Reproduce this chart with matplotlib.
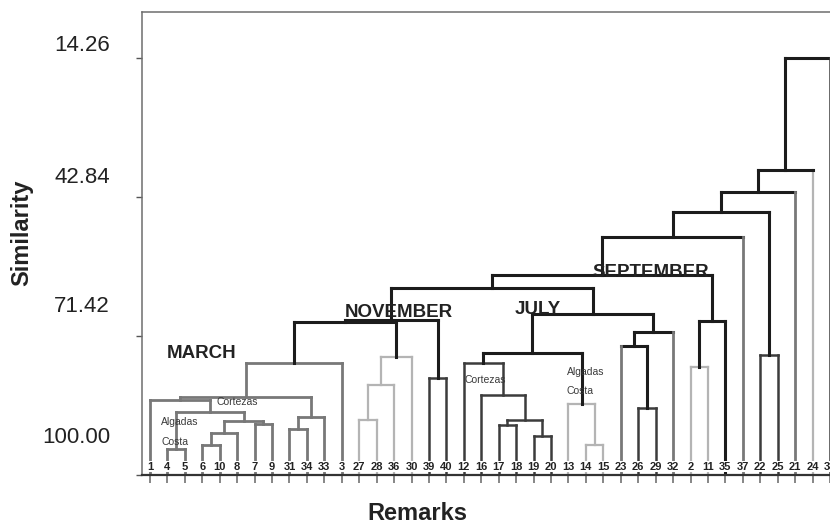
import matplotlib.pyplot as plt
from matplotlib.transforms import ScaledTranslation, blended_transform_factory

# === Data ===
leaf_labels = [1, 4, 5, 6, 10, 8, 7, 9, 31, 34, 33, 3, 27, 28, 36, 30, 39, 40, 12, 16,
               17, 18, 19, 20, 13, 14, 15, 23, 26, 29, 32, 2, 11, 35, 37, 22, 25, 21, 24, 38]
leaf_shades = ["mid"] * 12 + ["light"] * 4 + ["dark"] * 2 + ["dark"] * 6 + ["light"] * 3 + \
              ["mid", "dark", "dark", "mid", "light", "light", "black", "mid", "dark", "dark",
               "mid", "light", "dark"]

# merges, in order: name, left child, right child, similarity, shade
merge_names = ["a", "b", "c", "d", "e", "f", "g", "h", "i", "j", "march",
               "k", "l", "m", "n", "o", "nov",
               "p", "q", "r", "s", "t", "u", "v", "w", "x", "y", "z", "july", "aa",
               "bb", "sept", "cc", "dd", "ee", "ff", "gg", "hh", "root"]
merge_left = [4, 6, "b", 7, "c", "a", 1, 31, "h", "g", "j",
              27, "k", "l", 39, "march", "o",
              17, 19, "p", 16, 12, 14, 13, "t", 26, 23, "y", "w", "nov",
              2, "bb", "aa", "cc", 22, "dd", "ff", "gg", "hh"]
merge_right = [5, 10, 8, 9, "d", "e", "f", 34, 33, "i", 3,
               28, 36, 30, 40, "m", "n",
               18, 20, "q", "r", "s", 15, "u", "v", 29, "x", 32, "z", "july",
               11, 35, "sept", 37, 25, "ee", 21, 24, 38]
merge_sim = [94.65, 93.83, 91.36, 89.51, 88.90, 87.05, 84.58, 90.54, 88.07, 83.96, 76.97,
             88.69, 81.49, 75.74, 80.06, 68.54, 68.13,
             89.72, 91.98, 88.69, 83.55, 76.97, 93.83, 85.40, 74.91, 86.22, 73.48, 70.60,
             66.90, 61.55,
             77.79, 68.34, 58.88, 51.06, 75.33, 45.92, 41.81, 37.29, 14.26]
merge_shade = ["mid"] * 11 + ["light"] * 3 + ["dark", "black", "black"] + \
              ["dark"] * 5 + ["light", "light", "black", "dark", "black", "black", "black", "black"] + \
              ["light", "black", "black", "black", "dark", "black", "black", "black", "black"]

y_ticks = [14.26, 42.84, 71.42, 100.00]
y_label_shift_px = [15, 22, 32, 40]   # labels sit above their ticks in the original

month_names = ["MARCH", "NOVEMBER", "JULY", "SEPTEMBER"]
month_x = [2.97, 14.26, 22.25, 28.75]
month_y = [75.1, 66.6, 66.0, 58.4]

note_texts = ["Cortezas", "Algadas", "Costa", "Cortezas", "Algadas", "Costa"]
note_x = [3.8, 0.65, 0.65, 18.05, 23.9, 23.9]
note_y = [85.0, 89.1, 93.2, 80.5, 78.8, 82.7]

# === Style ===
plt.rcParams['font.family'] = ['Liberation Sans', 'DejaVu Sans']
shade_color = {"black": "#1c1c1c", "dark": "#3c3c3c", "mid": "#787878", "light": "#b4b4b4"}
shade_lw = {"black": 2.2, "dark": 1.8, "mid": 2.0, "light": 1.6}

fig = plt.figure(figsize=(8.3, 5.27), dpi=100)
ax = fig.add_axes([142 / 830, 52 / 527, 688 / 830, 463 / 527])

pos = {lab: i for i, lab in enumerate(leaf_labels)}
height = {lab: 100.0 for lab in leaf_labels}
leaf_shade = dict(zip(leaf_labels, leaf_shades))


def seg(x0, y0, x1, y1, shade):
    ax.plot([x0, x1], [y0, y1], color=shade_color[shade], lw=shade_lw[shade],
            solid_capstyle="projecting", zorder=2 if shade != "light" else 1)


for name, left, right, sim, shade in zip(merge_names, merge_left, merge_right, merge_sim, merge_shade):
    xl, xr = pos[left], pos[right]
    seg(xl, sim, xr, sim, shade)
    seg(xl, height[left], xl, sim, leaf_shade[left] if left in leaf_shade else shade)
    seg(xr, height[right], xr, sim, leaf_shade[right] if right in leaf_shade else shade)
    pos[name] = (xl + xr) / 2
    height[name] = sim

ax.set_xlim(-0.456, 38.79)
ax.set_ylim(100, 4.80)

# spines
ax.spines["right"].set_visible(False)
for side in ["left", "top"]:
    ax.spines[side].set_color("#6e6e6e")
    ax.spines[side].set_linewidth(1.1)
ax.spines["bottom"].set_color("#333333")
ax.spines["bottom"].set_linewidth(1.6)

# ticks
ax.set_xticks(range(len(leaf_labels)))
ax.set_xticklabels([])
ax.tick_params(axis="x", direction="out", length=6, width=1.1, color="#666666")
ax.set_yticks(y_ticks)
ax.set_yticklabels([f"{v:.2f}" for v in y_ticks])
ax.tick_params(axis="y", direction="out", length=4, width=1.0, color="#555555",
               pad=19, labelsize=16, labelcolor="#222222")
for lab, dy in zip(ax.get_yticklabels(), y_label_shift_px):
    lab.set_transform(lab.get_transform() + ScaledTranslation(0, dy / 100, fig.dpi_scale_trans))

# leaf labels inside the axes
blend = blended_transform_factory(ax.transData, ax.transAxes)
for i, lab in enumerate(leaf_labels):
    ax.text(i, 0.018, str(lab), transform=blend, ha="center", va="center",
            fontsize=8, fontweight="bold", color="#222222", clip_on=False, zorder=5,
            bbox=dict(facecolor="white", edgecolor="none", pad=0.2))

# group names and notes
for txt, x, y in zip(month_names, month_x, month_y):
    ax.text(x, y, txt, ha="center", va="center", fontsize=13.5, fontweight="bold",
            color="#222222", zorder=6)
for txt, x, y in zip(note_texts, note_x, note_y):
    ax.text(x, y, txt, ha="left", va="center", fontsize=7.5, color="#3a3a3a", zorder=6)

# axis titles
ax.text(-0.1744, 0.5227, "Similarity", transform=ax.transAxes, rotation=90,
        ha="center", va="center", fontsize=17, fontweight="bold", color="#222222")
ax.text(0.3997, -0.0842, "Remarks", transform=ax.transAxes,
        ha="center", va="center", fontsize=17, fontweight="bold", color="#222222")

fig.savefig("out.png", dpi=100)
